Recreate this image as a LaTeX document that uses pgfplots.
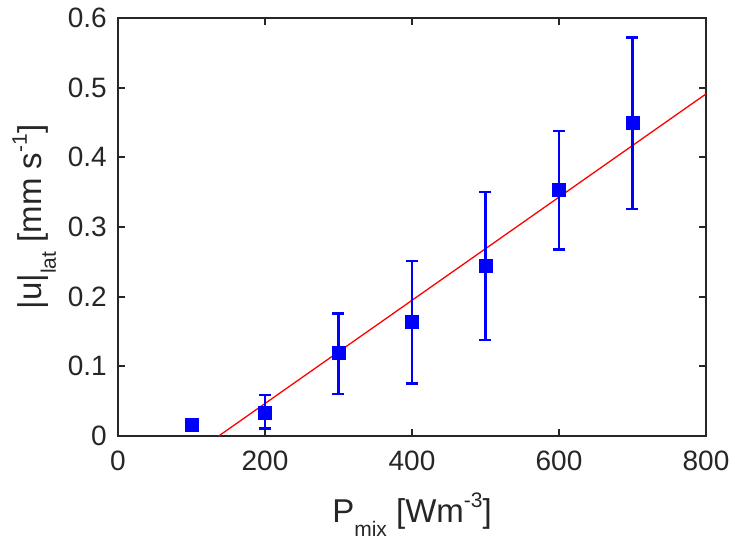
\documentclass[border=0pt]{standalone}
\usepackage{pgfplots}
\pgfplotsset{compat=1.18}
\usepackage{fontspec}
\setmainfont{Liberation Sans}

\newcommand\lsub[1]{\raisebox{-14pt}{\fontsize{21}{21}\selectfont #1}}
\newcommand\lsup[1]{\raisebox{15pt}{\fontsize{21}{21}\selectfont #1}}

% data: x, mean, error plus, error minus
\pgfplotstableread{
x    y     ep    em
100  0.016 0.000 0.000
200  0.034 0.025 0.023
300  0.119 0.057 0.059
400  0.164 0.087 0.089
500  0.244 0.106 0.106
600  0.353 0.085 0.085
700  0.449 0.123 0.123
}\ulat

\begin{document}
\begin{tikzpicture}[font=\fontsize{28}{32}\selectfont]
\begin{axis}[
  width=588pt, height=418pt, scale only axis,
  xmin=0, xmax=800, ymin=0, ymax=0.6,
  xtick={0,200,...,800},
  ytick={0,0.1,...,0.6},
  tick label style={font=\fontsize{28}{32}\selectfont, black!85},
  yticklabel style={/pgf/number format/fixed, /pgf/number format/precision=1,
    anchor=east, inner sep=0pt, xshift=-11pt},
  xticklabel style={anchor=base, inner sep=0pt, yshift=-35pt},
  /pgf/number format/assume math mode=true,
  axis line style={line width=2.6pt, black!85},
  every tick/.style={line width=1.8pt, black!85},
  major tick length=7pt,
  tick align=inside,
  xlabel={P\lsub{mix} [Wm\lsup{-3}]},
  ylabel={|u|\lsub{lat} [mm s\lsup{-1}]},
  label style={font=\fontsize{33}{38}\selectfont, black!85, inner sep=0pt},
  xlabel style={at={(axis description cs:0.5,0)}, anchor=base, yshift=-87pt},
  ylabel style={at={(axis description cs:0,0.524)}, anchor=base, yshift=76pt},
  clip=false,
]
\addplot[red, line width=1.3pt] coordinates {(137,0) (800,0.491)};
\addplot[blue, only marks, mark=square*, mark size=6.5pt,
  error bars/.cd, y dir=both, y explicit,
  error bar style={line width=2.5pt, blue},
  error mark options={line width=2.5pt, mark size=6pt, rotate=90, blue}]
  table[x=x, y=y, y error plus=ep, y error minus=em] {\ulat};
\end{axis}
\path (current axis.south west) ++(-118pt,-112pt) rectangle ++(736pt,548pt);
\end{tikzpicture}
\end{document}
